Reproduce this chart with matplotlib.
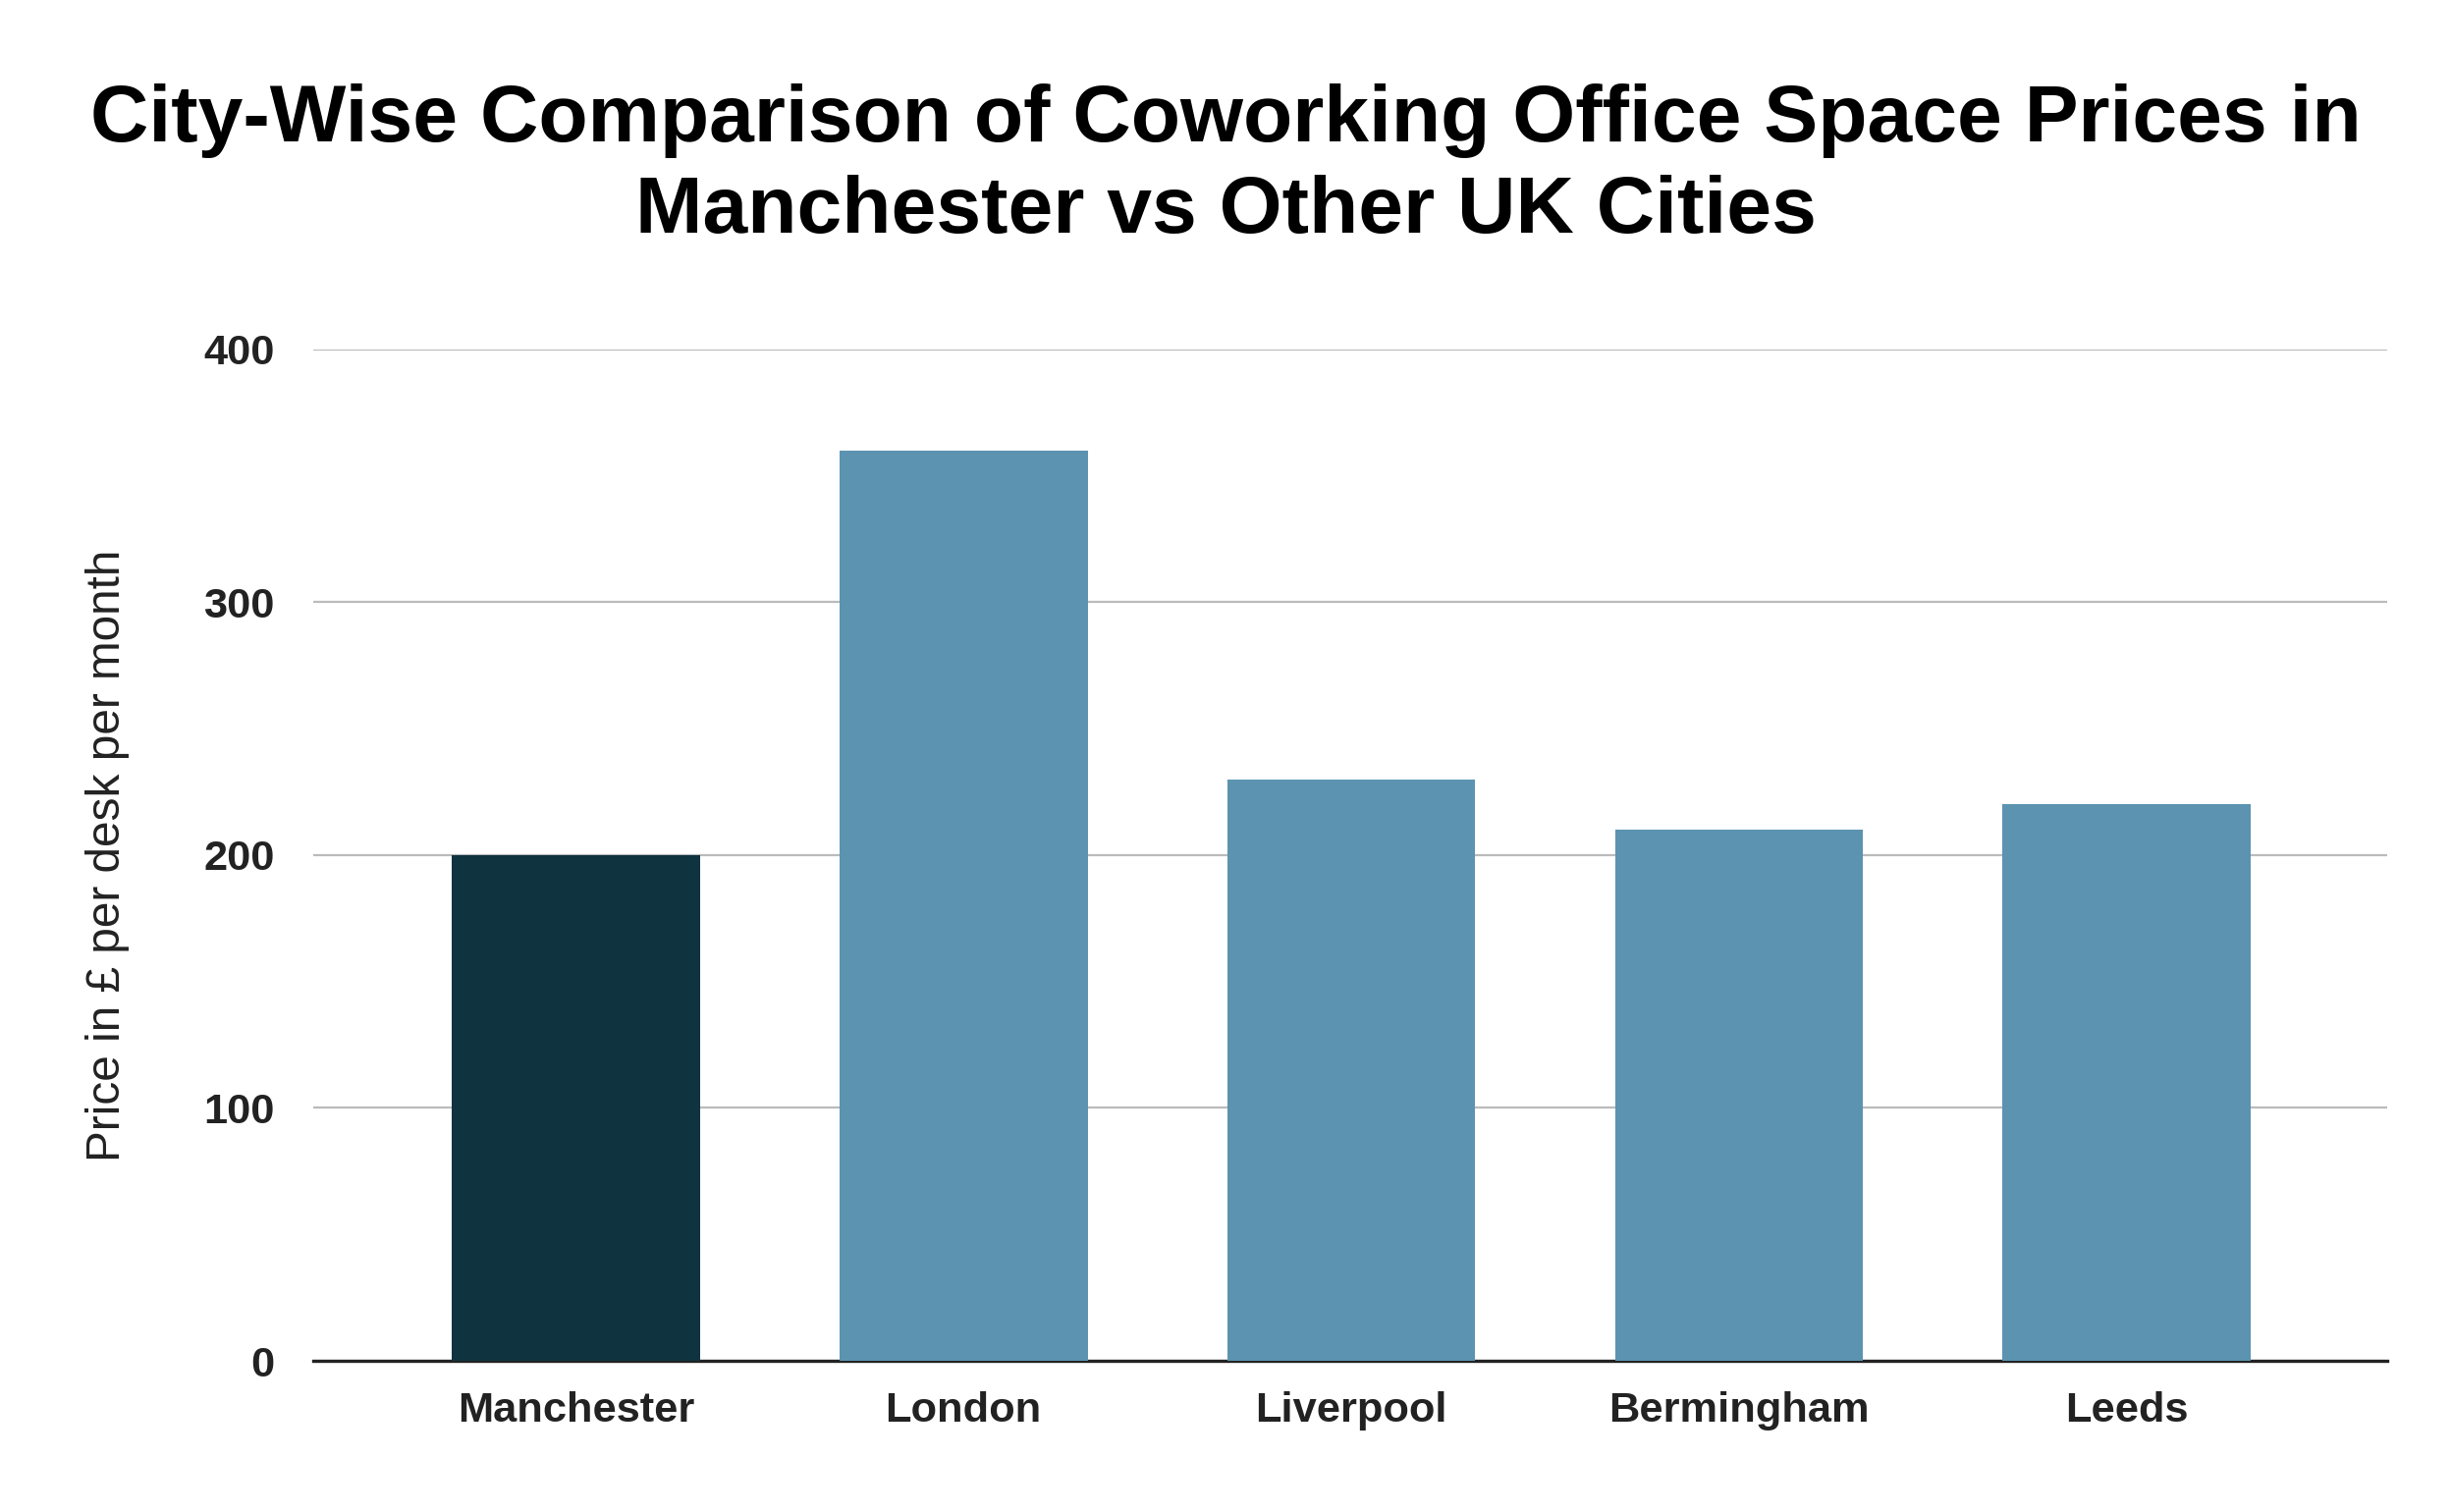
import matplotlib
matplotlib.use("Agg")
import matplotlib.pyplot as plt

cities = ["Manchester", "London", "Liverpool", "Bermingham", "Leeds"]
prices = [200, 360, 230, 210, 220]
colors = ["#0f3440", "#5b93b0", "#5b93b0", "#5b93b0", "#5b93b0"]
yticks = [0, 100, 200, 300, 400]

plt.rcParams["font.family"] = "Liberation Sans"
fig = plt.figure(figsize=(15.6, 9.625), dpi=160)
ax = fig.add_axes([0.128, 0.1, 0.846, 0.669])
ax.bar(range(len(cities)), prices, width=0.64, color=colors, zorder=3)
ax.set_xlim(-0.676, len(cities) - 1 + 0.672)
ax.set_ylim(0, 400)
ax.set_yticks(yticks)
ax.set_xticks(range(len(cities)))
ax.set_xticklabels(cities, fontsize=19.5, fontweight="bold", color="#222222")
ax.set_yticklabels([str(v) for v in yticks], fontsize=19.5, fontweight="bold", color="#222222")
ax.tick_params(length=0, pad=14)
ax.tick_params(axis="y", pad=18)
ax.grid(axis="y", color="#bbbbbb", linewidth=1, zorder=0)
for s in ["top", "right", "left"]:
    ax.spines[s].set_visible(False)
ax.spines["bottom"].set_color("#222222")
ax.spines["bottom"].set_linewidth(1.5)
ax.set_ylabel("Price in £ per desk per month", fontsize=21.5, color="#222222", labelpad=34)
fig.suptitle("City-Wise Comparison of Coworking Office Space Prices in\nManchester vs Other UK Cities",
             fontsize=37, fontweight="bold", y=0.945, linespacing=1.3)
fig.savefig("out.png", dpi=160, facecolor="white")
